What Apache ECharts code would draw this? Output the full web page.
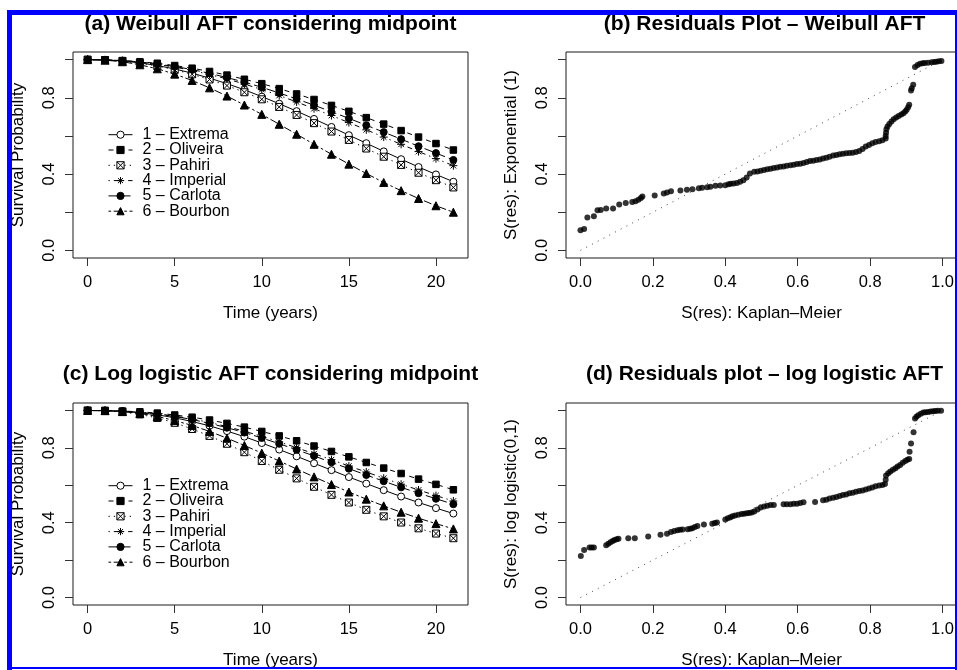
<!DOCTYPE html>
<html>
<head>
<meta charset="utf-8">
<script src="https://cdn.jsdelivr.net/npm/echarts@6/dist/echarts.min.js"></script>
<style>
html,body{margin:0;padding:0;background:#fff;}
#c{width:957px;height:670px;}
</style>
</head>
<body>
<div id="c"></div>
<script>
// ---------- data ----------
const years = [0,1,2,3,4,5,6,7,8,9,10,11,12,13,14,15,16,17,18,19,20,21];
const seriesNames = ['1 – Extrema','2 – Oliveira','3 – Pahiri','4 – Imperial','5 – Carlota','6 – Bourbon'];

// (a) Weibull AFT survival
const weibExtrema  = [1,0.998,0.993,0.983,0.969,0.951,0.929,0.903,0.874,0.842,0.806,0.769,0.730,0.689,0.647,0.604,0.562,0.519,0.478,0.437,0.398,0.360];
const weibOliveira = [1,0.999,0.995,0.989,0.981,0.969,0.955,0.938,0.919,0.897,0.874,0.848,0.820,0.791,0.760,0.729,0.696,0.662,0.628,0.594,0.560,0.526];
const weibPahiri   = [1,0.998,0.992,0.982,0.967,0.947,0.923,0.896,0.864,0.829,0.792,0.752,0.710,0.667,0.623,0.579,0.534,0.491,0.448,0.407,0.368,0.330];
const weibImperial = [1,0.999,0.994,0.987,0.975,0.961,0.943,0.922,0.899,0.872,0.843,0.812,0.778,0.743,0.707,0.670,0.632,0.594,0.556,0.518,0.481,0.444];
const weibCarlota  = [1,0.999,0.995,0.988,0.977,0.964,0.948,0.928,0.906,0.882,0.855,0.825,0.794,0.761,0.727,0.692,0.656,0.620,0.583,0.546,0.510,0.474];
const weibBourbon  = [1,0.997,0.989,0.973,0.952,0.924,0.891,0.852,0.809,0.762,0.713,0.661,0.609,0.556,0.504,0.452,0.403,0.356,0.313,0.272,0.234,0.200];

// (c) Log logistic AFT survival
const llExtrema  = [1,0.999,0.996,0.988,0.977,0.961,0.941,0.918,0.890,0.860,0.826,0.791,0.755,0.718,0.681,0.644,0.609,0.574,0.540,0.508,0.478,0.449];
const llOliveira = [1,1.000,0.997,0.993,0.986,0.976,0.964,0.949,0.931,0.911,0.888,0.864,0.838,0.810,0.781,0.752,0.722,0.692,0.663,0.633,0.605,0.576];
const llPahiri   = [1,0.998,0.992,0.979,0.960,0.934,0.901,0.864,0.822,0.777,0.730,0.683,0.637,0.592,0.549,0.508,0.469,0.434,0.401,0.370,0.342,0.317];
const llImperial = [1,0.999,0.997,0.991,0.982,0.970,0.955,0.936,0.914,0.889,0.862,0.832,0.801,0.769,0.737,0.703,0.671,0.638,0.606,0.575,0.545,0.516];
const llCarlota  = [1,0.999,0.996,0.990,0.981,0.968,0.952,0.931,0.908,0.882,0.853,0.822,0.790,0.757,0.723,0.689,0.655,0.622,0.589,0.558,0.528,0.499];
const llBourbon  = [1,0.999,0.994,0.984,0.968,0.946,0.920,0.888,0.852,0.813,0.772,0.730,0.687,0.645,0.604,0.564,0.526,0.490,0.456,0.424,0.395,0.367];

// (b) residuals Weibull: [S KM, S exponential]
const residWeibull = [
[0.000,0.105],[0.010,0.112],[0.019,0.172],[0.037,0.179],[0.047,0.210],[0.056,0.212],[0.071,0.219],[0.090,0.219],
[0.107,0.240],[0.125,0.249],[0.143,0.254],[0.152,0.258],[0.160,0.265],[0.167,0.274],[0.171,0.282],[0.205,0.288],
[0.230,0.298],[0.239,0.303],[0.250,0.310],[0.276,0.314],[0.294,0.318],[0.309,0.321],[0.327,0.326],[0.336,0.328],
[0.350,0.331],[0.359,0.333],[0.373,0.339],[0.386,0.340],[0.400,0.342],[0.409,0.346],[0.415,0.349],[0.423,0.351],
[0.432,0.353],[0.441,0.360],[0.450,0.368],[0.459,0.382],[0.468,0.403],[0.480,0.412],[0.489,0.414],[0.498,0.418],
[0.507,0.421],[0.516,0.425],[0.525,0.428],[0.534,0.432],[0.543,0.435],[0.552,0.439],[0.561,0.440],[0.570,0.444],
[0.580,0.446],[0.589,0.449],[0.598,0.453],[0.607,0.454],[0.616,0.458],[0.625,0.463],[0.634,0.468],[0.643,0.470],
[0.652,0.474],[0.661,0.477],[0.670,0.481],[0.679,0.486],[0.688,0.491],[0.698,0.497],[0.707,0.500],[0.716,0.504],
[0.725,0.507],[0.734,0.509],[0.743,0.511],[0.752,0.512],[0.761,0.516],[0.770,0.521],[0.779,0.532],[0.788,0.544],
[0.797,0.553],[0.806,0.561],[0.815,0.568],[0.825,0.572],[0.834,0.577],[0.843,0.586],[0.843,0.600],[0.844,0.617],
[0.845,0.635],[0.848,0.650],[0.853,0.663],[0.859,0.676],[0.865,0.688],[0.872,0.697],[0.879,0.705],[0.886,0.712],
[0.892,0.719],[0.897,0.728],[0.901,0.737],[0.905,0.750],[0.908,0.763],[0.913,0.838],[0.915,0.850],[0.919,0.868],
[0.924,0.961],[0.931,0.972],[0.938,0.979],[0.945,0.981],[0.951,0.982],[0.960,0.984],[0.970,0.986],[0.977,0.988],
[0.983,0.989],[0.990,0.991],[0.997,0.993]
];

// (d) residuals log logistic: [S KM, S log logistic]
const residLogLogistic = [
[0.001,0.222],[0.010,0.254],[0.025,0.267],[0.031,0.268],[0.037,0.268],[0.071,0.280],[0.077,0.288],[0.083,0.296],
[0.089,0.302],[0.094,0.307],[0.100,0.311],[0.105,0.314],[0.132,0.317],[0.150,0.317],[0.187,0.326],[0.221,0.336],
[0.239,0.341],[0.250,0.350],[0.259,0.355],[0.268,0.359],[0.275,0.362],[0.282,0.364],[0.296,0.365],[0.303,0.368],
[0.309,0.371],[0.316,0.377],[0.323,0.383],[0.341,0.390],[0.364,0.394],[0.371,0.398],[0.377,0.401],[0.400,0.417],
[0.407,0.424],[0.414,0.429],[0.420,0.434],[0.427,0.438],[0.436,0.442],[0.445,0.446],[0.452,0.448],[0.459,0.450],
[0.466,0.452],[0.473,0.455],[0.480,0.460],[0.489,0.471],[0.498,0.481],[0.507,0.487],[0.516,0.490],[0.525,0.494],
[0.534,0.495],[0.561,0.499],[0.570,0.499],[0.580,0.499],[0.589,0.501],[0.598,0.502],[0.607,0.506],[0.616,0.509],
[0.648,0.511],[0.670,0.520],[0.679,0.523],[0.688,0.529],[0.698,0.534],[0.707,0.537],[0.716,0.543],[0.725,0.548],
[0.734,0.551],[0.743,0.557],[0.752,0.560],[0.761,0.565],[0.770,0.569],[0.779,0.572],[0.788,0.578],[0.797,0.583],
[0.806,0.588],[0.815,0.595],[0.825,0.599],[0.834,0.602],[0.841,0.607],[0.843,0.630],[0.844,0.653],[0.850,0.665],
[0.856,0.674],[0.863,0.683],[0.870,0.691],[0.876,0.700],[0.883,0.709],[0.890,0.720],[0.897,0.730],[0.903,0.736],
[0.908,0.740],[0.909,0.779],[0.913,0.823],[0.920,0.884],[0.924,0.957],[0.928,0.967],[0.933,0.975],[0.940,0.983],
[0.947,0.989],[0.953,0.991],[0.960,0.992],[0.967,0.994],[0.974,0.996],[0.980,0.997],[0.987,0.998],[0.996,0.998]
];
const diagonal = [[0,0],[1,1]];

const timeTicks = [0,5,10,15,20];
const probTicks = [0,0.2,0.4,0.6,0.8,1.0];
const probLabels = [0,0.4,0.8];
const kmTicks = [0,0.2,0.4,0.6,0.8,1.0];

const titles = ['(a) Weibull AFT considering midpoint','(b) Residuals Plot – Weibull AFT',
                '(c) Log logistic AFT considering midpoint','(d) Residuals plot – log logistic AFT'];

// ---------- styling ----------
const FONT = '"Liberation Sans", Arial, Helvetica, sans-serif';
const ink = '#000';
const styles = [
  {symbol:'circle', size:7, dash:'solid', fill:'#fff'},
  {symbol:'rect', size:6.5, dash:[5,5], fill:'#000'},
  {symbol:'path://M0,0L10,0L10,10L0,10Z M0,0L10,10 M10,0L0,10', size:7, dash:[1.3,4], fill:'#fff'},
  {symbol:'path://M5,0L5,10M0,5L10,5M1.5,1.5L8.5,8.5M8.5,1.5L1.5,8.5', size:8, dash:[1.3,4,5,4], fill:'#000'},
  {symbol:'circle', size:7, dash:[9,4], fill:'#000'},
  {symbol:'triangle', size:8, dash:[2.6,2.6,8,2.6], fill:'#000'}
];

const grids = [
  {left:73, top:52, width:395, height:206},
  {left:566, top:52, width:397, height:206},
  {left:73, top:403, width:395, height:206},
  {left:566, top:403, width:397, height:206}
].map(g => Object.assign({show:true, borderColor:'#1a1a1a', borderWidth:1, backgroundColor:'transparent'}, g));

function mkX(gi, min, max, ticks, dec, name){
  return {
    type:'value', gridIndex:gi, min:min, max:max, position:'bottom',
    axisLine:{show:false, onZero:false}, splitLine:{show:false},
    axisTick:{show:true, inside:false, length:8, customValues:ticks, lineStyle:{color:'#333', width:1}},
    axisLabel:{customValues:ticks, margin:16, color:ink, fontSize:16.5, fontFamily:FONT,
      formatter: v => Number(v).toFixed(dec)},
    name:name, nameLocation:'middle', nameGap:47,
    nameTextStyle:{color:ink, fontSize:17, fontFamily:FONT}
  };
}
function mkY(gi, name){
  return {
    type:'value', gridIndex:gi, min:-0.04, max:1.04, position:'left',
    axisLine:{show:false, onZero:false}, splitLine:{show:false},
    axisTick:{show:true, inside:false, length:8, customValues:probTicks, lineStyle:{color:'#333', width:1}},
    axisLabel:{customValues:probLabels, rotate:90, margin:15, color:ink, fontSize:16.5, fontFamily:FONT,
      formatter: v => Number(v).toFixed(1)},
    name:name, nameLocation:'middle', nameGap:46,
    nameTextStyle:{color:ink, fontSize:17, fontFamily:FONT}
  };
}

const xAxis = [
  mkX(0, -0.84, 21.84, timeTicks, 0, 'Time (years)'),
  mkX(1, -0.04, 1.04, kmTicks, 1, 'S(res): Kaplan–Meier'),
  mkX(2, -0.84, 21.84, timeTicks, 0, 'Time (years)'),
  mkX(3, -0.04, 1.04, kmTicks, 1, 'S(res): Kaplan–Meier')
];
const yAxis = [
  mkY(0, 'Survival Probability'),
  mkY(1, 'S(res): Exponential (1)'),
  mkY(2, 'Survival Probability'),
  mkY(3, 'S(res): log logistic(0,1)')
];

function zip(xs, ys){ return xs.map((x,i)=>[x, ys[i]]); }
function curveSeries(axisIdx, arrays){
  return arrays.map((arr, i) => ({
    type:'line', name:seriesNames[i], xAxisIndex:axisIdx, yAxisIndex:axisIdx,
    data: zip(years, arr),
    symbol: styles[i].symbol, symbolSize: styles[i].size, showSymbol:true,
    lineStyle:{color:ink, width:1, type:styles[i].dash},
    itemStyle:{color:styles[i].fill, borderColor:ink, borderWidth:1},
    emphasis:{disabled:true}, animation:false, z:3
  }));
}
function residSeries(axisIdx, pts){
  return [
    {type:'line', xAxisIndex:axisIdx, yAxisIndex:axisIdx, data:diagonal, symbol:'none',
     lineStyle:{color:'#444', width:1, type:[1,5.5]}, silent:true, animation:false, z:2},
    {type:'scatter', xAxisIndex:axisIdx, yAxisIndex:axisIdx, data:pts, symbol:'circle', symbolSize:6,
     itemStyle:{color:ink}, silent:true, animation:false, z:3}
  ];
}

const series = [].concat(
  curveSeries(0, [weibExtrema, weibOliveira, weibPahiri, weibImperial, weibCarlota, weibBourbon]),
  residSeries(1, residWeibull),
  curveSeries(2, [llExtrema, llOliveira, llPahiri, llImperial, llCarlota, llBourbon]),
  residSeries(3, residLogLogistic)
);

function mkLegend(top){
  return {
    show:true, orient:'vertical', left:108, top:top, padding:0, itemGap:-0.7,
    itemWidth:24, itemHeight:9, selectedMode:false, data:seriesNames,
    itemStyle:{borderWidth:1},
    lineStyle:{width:1},
    textStyle:{color:ink, fontSize:16, fontFamily:FONT, lineHeight:15.3, padding:[0,0,0,5]}
  };
}

const titlePos = [[270.5,24],[764.5,24],[270.5,374.5],[764.5,374]];
const graphic = titles.map((t,i)=>({
  type:'text', x:titlePos[i][0], y:titlePos[i][1], z:10,
  style:{text:t, fill:ink, font:'bold 21px ' + FONT, align:'center', verticalAlign:'middle'}
})).concat([
  {type:'rect', shape:{x:7, y:10, width:950, height:5}, style:{fill:'#0000ff'}, z:100},
  {type:'rect', shape:{x:7, y:10, width:5, height:660}, style:{fill:'#0000ff'}, z:100},
  {type:'rect', shape:{x:955, y:10, width:2, height:660}, style:{fill:'#0000ff'}, z:100},
  {type:'rect', shape:{x:7, y:667, width:950, height:2}, style:{fill:'#0000ff'}, z:100}
]);

const chart = echarts.init(document.getElementById('c'), null, {renderer:'canvas'});
chart.setOption({
  backgroundColor:'#fff',
  animation:false,
  grid:grids,
  xAxis:xAxis,
  yAxis:yAxis,
  legend:[mkLegend(126.7), mkLegend(477.7)],
  series:series,
  graphic:graphic
});
</script>
</body>
</html>
